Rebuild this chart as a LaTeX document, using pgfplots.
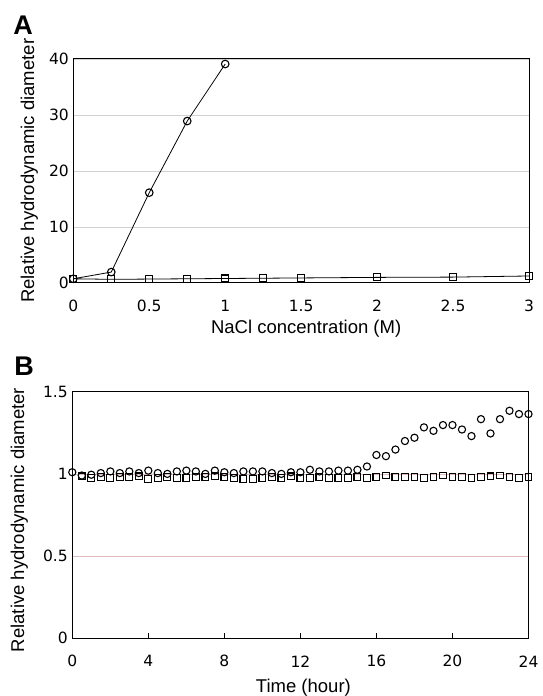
\documentclass[border=0pt]{standalone}
\usepackage{fontspec}
\setmainfont{Liberation Sans}
\newfontfamily\tickfont{DejaVu Sans}
\usepackage{pgfplots}
\pgfplotsset{compat=1.18}

\pgfplotstableread{
x y
0 0.7
0.25 0.6
0.5 0.65
0.75 0.7
1 0.75
1.25 0.8
1.5 0.85
2 0.95
2.5 1.0
3 1.2
}\Asq
\pgfplotstableread{
x y
0 0.7
0.25 1.9
0.5 16.1
0.75 28.9
1 39.1
}\Aci
\pgfplotstableread{
x y
0 1.01
0.5 0.99
1 0.995
1.5 1.005
2 1.015
2.5 1.005
3 1.015
3.5 1.005
4 1.02
4.5 1.005
5 1.0
5.5 1.015
6 1.02
6.5 1.015
7 1.0
7.5 1.02
8 1.01
8.5 1.005
9 1.015
9.5 1.015
10 1.015
10.5 1.005
11 1.0
11.5 1.01
12 1.01
12.5 1.025
13 1.015
13.5 1.015
14 1.02
14.5 1.02
15 1.025
15.5 1.045
16 1.115
16.5 1.108
17 1.148
17.5 1.20
18 1.22
18.5 1.283
19 1.262
19.5 1.297
20 1.297
20.5 1.27
21 1.23
21.5 1.333
22 1.246
22.5 1.333
23 1.384
23.5 1.364
24 1.364
}\Bci
\pgfplotstableread{
x y
0.5 0.985
1 0.975
1.5 0.98
2 0.975
2.5 0.98
3 0.98
3.5 0.985
4 0.97
4.5 0.975
5 0.98
5.5 0.975
6 0.975
6.5 0.98
7 0.98
7.5 0.985
8 0.98
8.5 0.975
9 0.97
9.5 0.97
10 0.975
10.5 0.98
11 0.975
11.5 0.985
12 0.975
12.5 0.975
13 0.98
13.5 0.975
14 0.975
14.5 0.975
15 0.98
15.5 0.975
16 0.98
16.5 0.99
17 0.98
17.5 0.98
18 0.98
18.5 0.975
19 0.98
19.5 0.99
20 0.98
20.5 0.98
21 0.975
21.5 0.98
22 0.985
22.5 0.99
23 0.98
23.5 0.975
24 0.98
}\Bsq

\begin{document}
\begin{tikzpicture}
\path[use as bounding box] (0,0) rectangle (542pt,696pt);
\pgfplotsset{
  panel/.style={
    scale only axis,
    clip=false,
    axis line style={line width=1pt},
    /pgf/number format/assume math mode=true,
    tick label style={font=\tickfont\fontsize{15.5}{18}\selectfont},
    xticklabel style={anchor=center,yshift=-23pt},
    yticklabel style={xshift=-1pt},
    label style={font=\fontsize{18.5}{22}\selectfont},
    ymajorgrids,
  },
  circ/.style={black, line width=0.8pt, mark=o, mark size=3.8pt, mark options={fill=white, line width=1.1pt, solid}},
  sq/.style={black, line width=0.8pt, mark=square, mark size=3.5pt, mark options={fill=white, line width=1.1pt, solid}},
}
\begin{axis}[panel,
  at={(73.3pt,637pt)}, anchor=north west,
  width=455.7pt, height=223.7pt,
  xmin=0, xmax=3, ymin=0, ymax=40,
  xtick={0,0.5,1,1.5,2,2.5,3},
  xticklabels={0,0.5,1,1.5,2,2.5,3},
  ytick={0,10,20,30,40},
  tick style={draw=none},
  major grid style={gray!35, line width=0.5pt},
  xlabel={NaCl concentration (M)},
  ylabel={Relative hydrodynamic diameter},
  xlabel style={at={([xshift=5pt,yshift=-46.3pt]axis description cs:0.5,0)}, anchor=center},
  ylabel style={at={([xshift=-44pt]axis description cs:0,0.5)}, anchor=center},
]
\addplot[sq] table[x=x,y=y]{\Asq};
\addplot[circ] table[x=x,y=y]{\Aci};
\end{axis}

\begin{axis}[panel,
  at={(72.3pt,304.3pt)}, anchor=north west,
  width=456.2pt, height=246.6pt,
  xmin=0, xmax=24, ymin=0, ymax=1.5,
  xtick={0,4,8,12,16,20,24},
  ytick={0,0.5,1,1.5},
  yticklabels={0,0.5,1,1.5},
  axis line style={line width=0.8pt},
  xtick align=inside, xtick pos=bottom,
  major tick length=5pt,
  x tick style={black, line width=0.8pt},
  y tick style={draw=none},
  major grid style={red!35!gray!40, line width=0.5pt},
  xlabel={Time (hour)},
  ylabel={Relative hydrodynamic diameter},
  xlabel style={at={([xshift=3pt,yshift=-49.4pt]axis description cs:0.5,0)}, anchor=center},
  ylabel style={at={([xshift=-53pt,yshift=-5pt]axis description cs:0,0.5)}, anchor=center},
]
\addplot[sq, only marks, mark size=3.4pt] table[x=x,y=y]{\Bsq};
\addplot[circ, only marks, mark size=3.6pt] table[x=x,y=y]{\Bci};
\end{axis}

\node[font=\bfseries\fontsize{27}{30}\selectfont] at (23pt,671pt) {A};
\node[font=\bfseries\fontsize{27}{30}\selectfont] at (24pt,330pt) {B};
\end{tikzpicture}
\end{document}
